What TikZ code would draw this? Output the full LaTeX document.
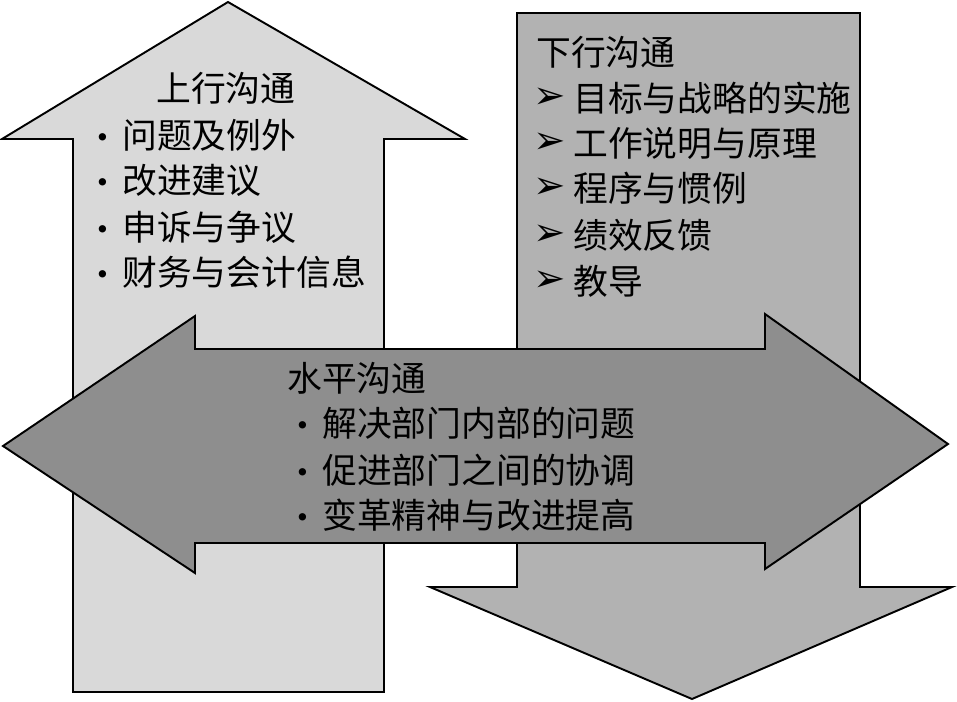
\documentclass[tikz,border=0pt]{standalone}
\usepackage{fontspec}
\newfontfamily\cjk{Noto Sans CJK SC}
\newfontfamily\symfont{DejaVu Sans}
\usetikzlibrary{positioning}

\definecolor{upgray}{RGB}{217,217,217}
\definecolor{downgray}{RGB}{178,178,178}
\definecolor{midgray}{RGB}{142,142,142}

\tikzset{
	bigarrow/.style={draw=black, line width=1.1pt, line join=miter},
	txt/.style={anchor=west, inner sep=0pt},
	dotmark/.style={anchor=center, inner sep=0pt}
}

\begin{document}
\begin{tikzpicture}[x=0.02cm, y=-0.02cm, font=\cjk\fontsize{19.8}{23}\selectfont]
	\useasboundingbox (0,0) rectangle (957,701);

	% Mũi tên đi lên
	\draw[bigarrow, fill=upgray] (228,2) -- (465,139) -- (384,139) -- (384,692)
		-- (73,692) -- (73,139) -- (2,139) -- cycle;

	% Mũi tên đi xuống
	\draw[bigarrow, fill=downgray] (517,13) -- (860,13) -- (860,587) -- (952,587)
		-- (692,699) -- (430,587) -- (517,587) -- cycle;

	% Mũi tên hai chiều nằm ngang
	\draw[bigarrow, fill=midgray] (3,446) -- (195,316) -- (195,349) -- (765,349)
		-- (765,314) -- (948,444) -- (765,569) -- (765,543) -- (195,543)
		-- (195,573) -- cycle;

	% Lên
	\node[txt] (up-title) at (156,88) {上行沟通};
	\foreach \i/\t/\y in {1/问题及例外/135, 2/改进建议/180, 3/申诉与争议/227, 4/财务与会计信息/272} {
		\node[dotmark] (up-dot-\i) at (103,\y+7) {·};
		\node[txt] (up-\i) at (122,\y) {\t};
	}

	% Xuống
	\node[txt] (down-title) at (536,52) {下行沟通};
	\foreach \i/\t/\y in {1/目标与战略的实施/98, 2/工作说明与原理/143, 3/程序与惯例/188, 4/绩效反馈/235, 5/教导/281} {
		\node[dotmark, font=\symfont\fontsize{22}{24}\selectfont] (down-mark-\i) at (550,\y) {➢};
		\node[txt] (down-\i) at (573,\y) {\t};
	}

	% Ngang
	\node[txt] (hor-title) at (287,378) {水平沟通};
	\foreach \i/\t/\y in {1/解决部门内部的问题/423, 2/促进部门之间的协调/470, 3/变革精神与改进提高/515} {
		\node[dotmark] (hor-dot-\i) at (303,\y+7) {·};
		\node[txt] (hor-\i) at (322,\y) {\t};
	}
\end{tikzpicture}
\end{document}
